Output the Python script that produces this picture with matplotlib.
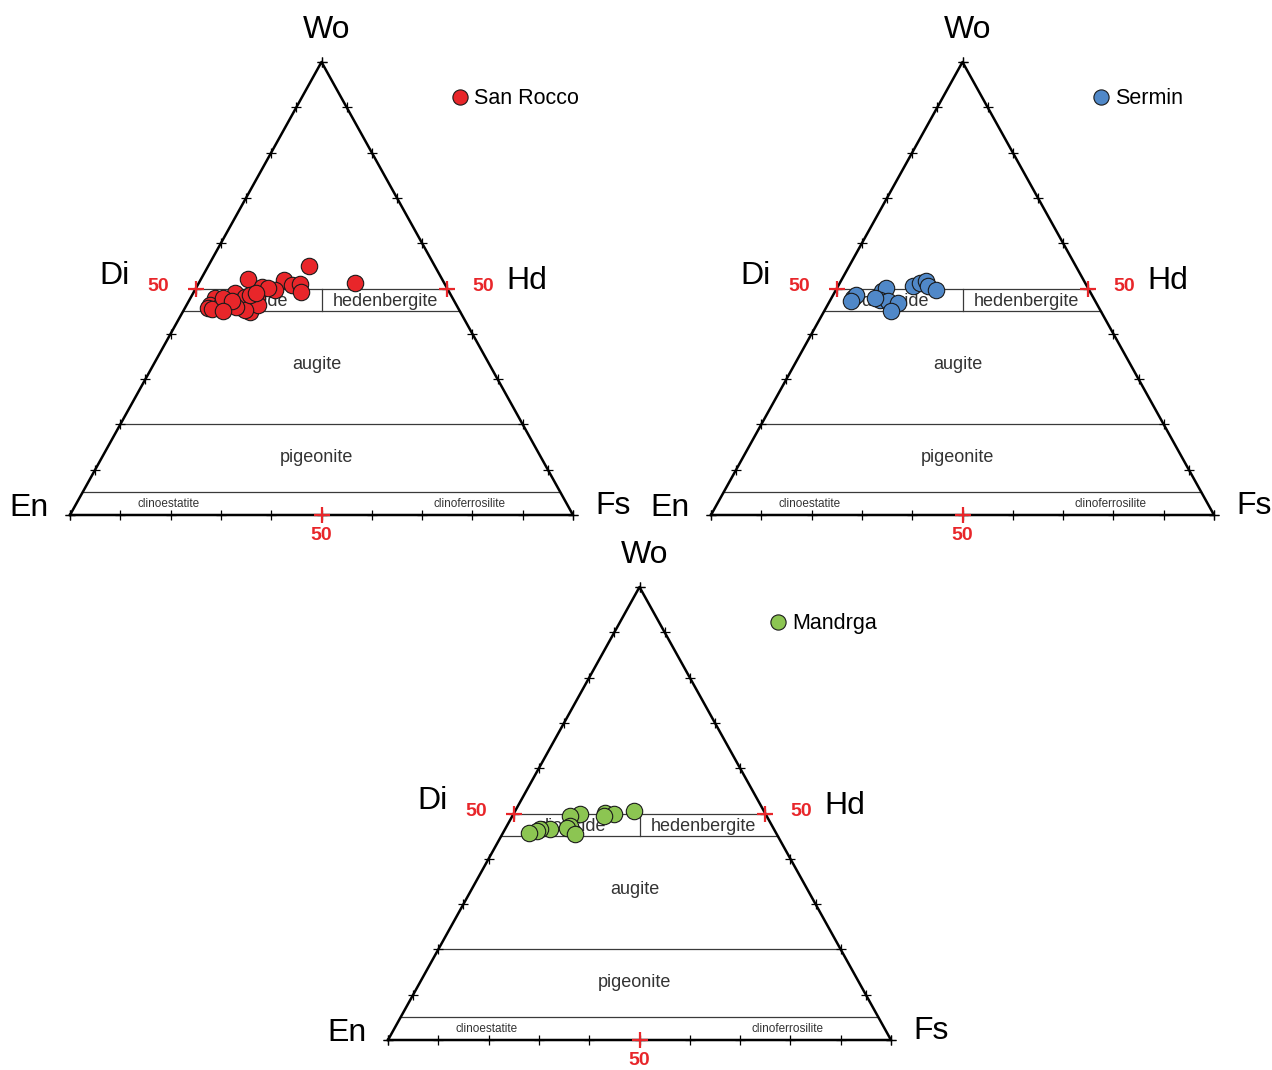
import numpy as np
import matplotlib
matplotlib.use("Agg")
import matplotlib.pyplot as plt

plt.rcParams['font.family'] = ['Liberation Sans', 'DejaVu Sans']

# pyroxene compositions in mol% (Wo, En, Fs)
san_rocco_wo = [55.0, 51.2, 52.1, 51.9, 50.8, 50.9, 49.3, 49.7, 50.4, 48.9, 47.8, 46.4, 46.7,
                44.9, 47.8, 46.4, 45.6, 46.7, 46.4, 47.1, 45.6, 46.4, 45.5, 50.1, 48.2, 47.9, 45.3,
                46.0, 47.2, 48.6, 45.0, 49.0]
san_rocco_en = [25.0, 17.8, 38.5, 31.6, 30.5, 28.8, 29.4, 34.4, 36.7, 42.7, 39.0, 40.7, 41.2,
                41.8, 47.3, 49.0, 49.7, 46.5, 45.4, 43.0, 43.0, 39.4, 49.0, 35.6, 41.1, 45.6, 42.6,
                44.0, 44.2, 40.0, 47.0, 38.5]
san_rocco_fs = [20.0, 31.0, 9.4, 16.5, 18.7, 20.3, 21.3, 15.9, 12.9, 8.4, 13.2, 12.9, 12.1,
                13.3, 4.9, 4.6, 4.7, 6.8, 8.2, 9.9, 11.4, 14.2, 5.5, 14.3, 10.7, 6.5, 12.1,
                10.0, 8.6, 11.4, 8.0, 12.5]

sermin_wo = [47.9, 48.6, 47.2, 49.4, 50.1, 47.5, 47.2, 46.8, 45.0, 50.5, 51.2, 51.6, 50.5, 49.7, 47.9]
sermin_en = [47.8, 46.8, 48.5, 41.4, 40.1, 42.7, 41.2, 39.4, 41.7, 34.6, 32.9, 31.4, 31.6, 30.4, 43.5]
sermin_fs = [4.3, 4.6, 4.3, 9.2, 9.8, 9.8, 11.6, 13.8, 13.3, 14.9, 15.9, 17.0, 17.9, 19.9, 8.6]

mandrga_wo = [50.6, 50.2, 49.8, 49.5, 49.8, 49.5, 47.3, 46.9, 45.4, 46.5, 46.5, 46.2, 45.8]
mandrga_en = [25.8, 31.7, 30.2, 32.4, 36.9, 39.0, 40.1, 41.0, 40.1, 44.5, 46.5, 47.3, 49.1]
mandrga_fs = [23.6, 18.1, 20.0, 18.1, 13.3, 11.5, 12.6, 12.1, 14.5, 9.0, 7.0, 6.5, 5.1]

# field boundaries (Wo levels)
boundary_wo = [50, 45, 20, 5]
tick_values = np.arange(0, 101, 10)

RED = '#e8262a'
W, H = 1272, 1070
TW, TH = 503, 453


def tern(wo, en, fs):
    wo, en, fs = np.asarray(wo, float), np.asarray(en, float), np.asarray(fs, float)
    tot = wo + en + fs
    wo, fs = wo / tot, fs / tot
    return fs + wo / 2, wo


def draw_panel(x0, y0, wo, en, fs, color, name):
    ax = fig.add_axes([x0 / W, (H - y0) / H, TW / W, TH / H])
    ax.set_xlim(0, 1)
    ax.set_ylim(0, 1)
    ax.axis('off')

    # outline
    ax.plot([0, 1, 0.5, 0], [0, 0, 1, 0], color='black', lw=1.8, clip_on=False, zorder=3)

    # field lines
    for w in boundary_wo:
        xl, yl = tern(w, 100 - w, 0)
        xr, yr = tern(w, 0, 100 - w)
        ax.plot([xl, xr], [yl, yr], color='#3a3a3a', lw=0.9, clip_on=False, zorder=2)
    xd, yd = tern([45, 50], [27.5, 25], [27.5, 25])
    ax.plot(xd, yd, color='#3a3a3a', lw=0.9, zorder=2)

    # ticks on the three sides
    t = tick_values
    for sx, sy in [tern(t, 100 - t, 0), tern(t, 0, 100 - t), tern(0, 100 - t, t)]:
        ax.plot(sx, sy, ls='none', marker='+', ms=7, mew=0.9, color='black',
                clip_on=False, zorder=4)
    for sx, sy in [tern(50, 50, 0), tern(50, 0, 50), tern(0, 50, 50)]:
        ax.plot(sx, sy, ls='none', marker='+', ms=12, mew=1.6, color=RED,
                clip_on=False, zorder=5)

    # apex / side labels
    big = dict(fontsize=23, color='black', ha='center', va='center')
    ax.text(0.511, 1.071, 'Wo', **big)
    ax.text(0.089, 0.528, 'Di', **big)
    ax.text(0.909, 0.517, 'Hd', **big)
    ax.text(-0.082, 0.016, 'En', **big)
    ax.text(1.080, 0.020, 'Fs', **big)
    red = dict(fontsize=14, color=RED, fontweight='bold', ha='center', va='center')
    ax.text(0.175, 0.505, '50', **red)
    ax.text(0.821, 0.505, '50', **red)
    ax.text(0.500, -0.045, '50', **red)

    # field names
    fl = dict(fontsize=13, color='#333333', ha='center', va='center')
    ax.text(0.366, 0.471, 'diopside', zorder=1, **fl)
    ax.text(0.628, 0.471, 'hedenbergite', **fl)
    ax.text(0.491, 0.332, 'augite', **fl)
    ax.text(0.491, 0.126, 'pigeonite', **fl)
    sm = dict(fontsize=8.5, color='#333333', ha='center', va='center')
    ax.text(0.195, 0.024, 'clinoestatite', **sm)
    ax.text(0.795, 0.024, 'clinoferrosilite', **sm)

    # data
    px, py = tern(wo, en, fs)
    ax.scatter(px, py, s=140, color=color, edgecolor='#1a1a1a', linewidth=0.8,
               zorder=6, clip_on=False)

    # legend
    ax.scatter([0.775], [0.923], s=120, color=color, edgecolor='#1a1a1a',
               linewidth=0.8, clip_on=False)
    ax.text(0.803, 0.919, name, fontsize=15.5, ha='left', va='center')
    return ax


fig = plt.figure(figsize=(W / 100, H / 100), dpi=100)

draw_panel(70, 515, san_rocco_wo, san_rocco_en, san_rocco_fs, '#e8262a', 'San Rocco')
draw_panel(711, 515, sermin_wo, sermin_en, sermin_fs, '#5088c8', 'Sermin')
draw_panel(388, 1040, mandrga_wo, mandrga_en, mandrga_fs, '#8cc552', 'Mandrga')

fig.savefig('out.png', dpi=100, facecolor='white')
